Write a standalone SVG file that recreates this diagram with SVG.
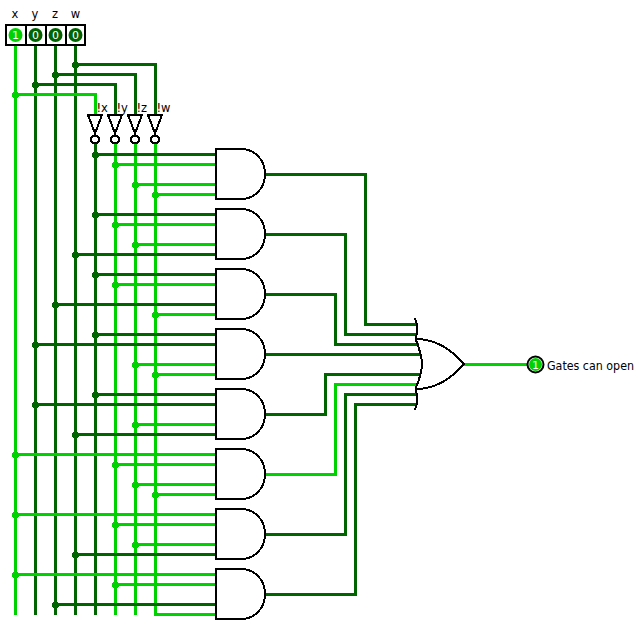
<svg xmlns="http://www.w3.org/2000/svg" width="639" height="624" viewBox="0 0 639 624">
<style>
text{font-family:"DejaVu Sans",sans-serif;font-size:11.500px;fill:#000}
.m{text-anchor:middle}
.d,.l{fill:none;stroke-width:3;stroke-linejoin:miter;shape-rendering:crispEdges}
.d{stroke:#006400}.l{stroke:#00d200}
.jd{fill:#006400}.jl{fill:#00d200}
.jd circle,.jl circle{shape-rendering:crispEdges}
.g{fill:none;stroke:#000;stroke-width:2;shape-rendering:crispEdges}
.box{fill:#fff;stroke:#000;stroke-width:2;shape-rendering:crispEdges}
.pin1{fill:#00d200}.pin0{fill:#006400}
.v{font-size:11px;fill:#fff;text-anchor:middle}
</style>
<defs>
<path id="andg" class="g" d="M241 149H216V199H241C255 199 265 188 265 174C265 160 255 149 241 149Z"/>
<g id="inv"><path class="g" d="M88 115H102L95 133.500Z"/><circle class="g" cx="95" cy="139.500" r="4"/></g>
</defs>
<g id="connectors">
<path class="l" d="M15.500 45V615"/>
<path class="d" d="M35.500 45V615M55.500 45V615M75.500 45V615"/>
<path class="l" d="M15.500 94.500H95.500V115"/>
<path class="d" d="M35.500 84.500H115.500V115M55.500 74.500H135.500V115M75.500 64.500H155.500V115"/>
<path class="d" d="M95.500 144V615"/>
<path class="l" d="M115.500 144V615M135.500 144V615M155.500 144V614.500H216"/>
<path class="d" d="M95.500 154.500H216M95.500 214.500H216M75.500 254.500H216M95.500 274.500H216M55.500 304.500H216M95.500 334.500H216M35.500 344.500H216M95.500 394.500H216M35.500 404.500H216M75.500 434.500H216M75.500 554.500H216M55.500 604.500H216"/>
<path class="l" d="M115.500 164.500H216M135.500 184.500H216M155.500 194.500H216M115.500 224.500H216M135.500 244.500H216M115.500 284.500H216M155.500 314.500H216M135.500 364.500H216M155.500 374.500H216M135.500 424.500H216M15.500 454.500H216M115.500 464.500H216M135.500 484.500H216M155.500 494.500H216M15.500 514.500H216M115.500 524.500H216M135.500 544.500H216M15.500 574.500H216M115.500 584.500H216"/>
<path class="d" d="M265 174.500H365.500V324.500H416M265 234.500H345.500V334.500H417M265 294.500H335.500V344.500H419M265 354.500H420M265 414.500H325.500V374.500H420M265 534.500H345.500V394.500H418M265 594.500H355.500V404.500H417"/>
<path class="l" d="M265 474.500H335.500V384.500H418M464 364.500H530"/>
<g class="jl">
<circle cx="15.500" cy="94.500" r="3.500"/><circle cx="15.500" cy="454.500" r="3.500"/><circle cx="15.500" cy="514.500" r="3.500"/><circle cx="15.500" cy="574.500" r="3.500"/>
<circle cx="115.500" cy="164.500" r="3.500"/><circle cx="135.500" cy="184.500" r="3.500"/><circle cx="155.500" cy="194.500" r="3.500"/><circle cx="115.500" cy="224.500" r="3.500"/><circle cx="135.500" cy="244.500" r="3.500"/><circle cx="115.500" cy="284.500" r="3.500"/><circle cx="155.500" cy="314.500" r="3.500"/><circle cx="135.500" cy="364.500" r="3.500"/><circle cx="155.500" cy="374.500" r="3.500"/><circle cx="135.500" cy="424.500" r="3.500"/><circle cx="115.500" cy="464.500" r="3.500"/><circle cx="135.500" cy="484.500" r="3.500"/><circle cx="155.500" cy="494.500" r="3.500"/><circle cx="115.500" cy="524.500" r="3.500"/><circle cx="135.500" cy="544.500" r="3.500"/><circle cx="115.500" cy="584.500" r="3.500"/>
</g>
<g class="jd">
<circle cx="35.500" cy="84.500" r="3.500"/><circle cx="55.500" cy="74.500" r="3.500"/><circle cx="75.500" cy="64.500" r="3.500"/>
<circle cx="95.500" cy="154.500" r="3.500"/><circle cx="95.500" cy="214.500" r="3.500"/><circle cx="75.500" cy="254.500" r="3.500"/><circle cx="95.500" cy="274.500" r="3.500"/><circle cx="55.500" cy="304.500" r="3.500"/><circle cx="95.500" cy="334.500" r="3.500"/><circle cx="35.500" cy="344.500" r="3.500"/><circle cx="95.500" cy="394.500" r="3.500"/><circle cx="35.500" cy="404.500" r="3.500"/><circle cx="75.500" cy="434.500" r="3.500"/><circle cx="75.500" cy="554.500" r="3.500"/><circle cx="55.500" cy="604.500" r="3.500"/>
</g>
</g>
<g id="input-pins">
<rect class="box" x="6" y="25" width="20" height="20"/><rect class="box" x="26" y="25" width="20" height="20"/><rect class="box" x="46" y="25" width="20" height="20"/><rect class="box" x="66" y="25" width="19" height="20"/>
<circle class="pin1" cx="15.500" cy="35" r="7"/><circle class="pin0" cx="35.500" cy="35" r="7"/><circle class="pin0" cx="55.500" cy="35" r="7"/><circle class="pin0" cx="75.500" cy="35" r="7"/>
<text class="v" x="15.500" y="39">1</text><text class="v" x="35.500" y="39">0</text><text class="v" x="55.500" y="39">0</text><text class="v" x="75.500" y="39">0</text>
<text class="m" x="15" y="18">x</text><text class="m" x="35" y="18">y</text><text class="m" x="55" y="18">z</text><text class="m" x="75.500" y="18">w</text>
</g>
<g id="inverters">
<use href="#inv"/><use href="#inv" x="20"/><use href="#inv" x="40"/><use href="#inv" x="60"/>
<text x="96.500" y="112">!x</text><text x="116.500" y="112">!y</text><text x="136.500" y="112">!z</text><text x="156.500" y="112">!w</text>
</g>
<g id="and-gates">
<use href="#andg"/><use href="#andg" y="60"/><use href="#andg" y="120"/><use href="#andg" y="180"/><use href="#andg" y="240"/><use href="#andg" y="300"/><use href="#andg" y="360"/><use href="#andg" y="420"/>
</g>
<g id="or-gate">
<path class="g" d="M415 318C418 326 418 332 415.500 339C420 350 422 357 422 364C422 371 420 378 415.500 389C418 396 418 402 415 410"/>
<path class="g" d="M415.500 339C436 339 452 350 464 364C452 378 436 389 415.500 389"/>
</g>
<g id="output-pin">
<circle cx="535.500" cy="364.500" r="8" fill="#fff" stroke="#000" stroke-width="2"/>
<circle class="pin1" cx="535.500" cy="364.500" r="6.500"/>
<text class="v" x="535.500" y="368.500">1</text>
<text x="547" y="370" textLength="87" lengthAdjust="spacingAndGlyphs">Gates can open</text>
</g>
</svg>
